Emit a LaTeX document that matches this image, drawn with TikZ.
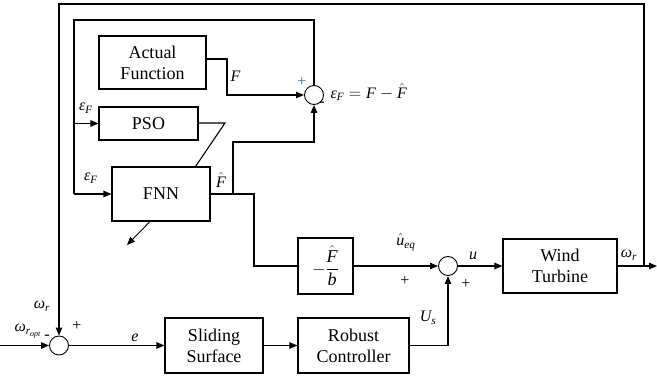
\documentclass[tikz,border=0pt]{standalone}
\usepackage{amsmath}
\usepackage{fontspec}
\setmainfont{Liberation Serif}
\newfontfamily\blkfont{Liberation Serif}
\usetikzlibrary{arrows.meta,calc}
\newcommand{\mi}[1]{\textit{#1}}
\definecolor{plusblue}{RGB}{60,110,150}
\begin{document}
\begin{tikzpicture}[x=1pt,y=-1pt,
  line width=1.1pt,
  blk/.style={draw,rectangle,inner sep=0pt,align=center,font=\blkfont\fontsize{18}{21}\selectfont},
  sumc/.style={draw,circle,minimum size=19pt,inner sep=0pt,line width=0.9pt},
  arr/.style={-{Triangle[length=8pt,width=6.5pt]}},
  lab/.style={inner sep=0pt,font=\fontsize{16}{18}\selectfont},
  sgn/.style={inner sep=0pt,font=\fontsize{16}{18}\selectfont}]
\useasboundingbox (0,0) rectangle (657,377);
% blocks
\node[blk,minimum width=107pt,minimum height=53pt] (act) at (152.5,62.5) {Actual\\Function};
\node[blk,minimum width=99pt,minimum height=33pt] (pso) at (148.5,123.5) {PSO};
\node[blk,minimum width=98pt,minimum height=54pt] (fnn) at (161,194) {FNN};
\node[blk,minimum width=55pt,minimum height=56pt] (fb) at (325.5,266) {$-\dfrac{\hat{\mi{F}}}{\mi{b}}$};
\node[blk,minimum width=114pt,minimum height=54pt] (wt) at (560,266) {Wind\\Turbine};
\node[blk,minimum width=111pt,minimum height=55pt] (rc) at (353.5,345.5) {Robust\\Controller};
\node[blk,minimum width=98pt,minimum height=55pt] (ss) at (214,345.5) {Sliding\\Surface};
\node[sumc] (s1) at (314,95) {};
\node[sumc] (s2) at (448,266) {};
\node[sumc] (s3) at (59,345.5) {};
% coordinates
\coordinate (out) at (657,266);
\coordinate (br) at (644,266);
\coordinate (inp) at (0,345.5);
\coordinate (fbr) at (233,194);
\coordinate (fturn) at (254,194);
\coordinate (pturn) at (225,123);
\coordinate (dend) at (127,245);
\coordinate (lx) at (74,20);
% outer loop
\draw[arr] (wt.east) -- (out);
\draw[arr] (br) |- (58,4) -| (s3.north);
% inner loop
\draw (s1.north) |- (lx) -- (74,194);
\draw[arr] (74,194) -- (fnn.west);
\draw[arr] (74,123.5) -- (pso.west);
\draw[arr] ([yshift=3.5pt]act.east) -| (227,95) -- (s1.west);
\draw ([yshift=0.5pt]pso.east) -- (pturn) -- ([xshift=-15pt]fnn.north east);
\draw[arr,line width=0.9pt] ([xshift=-11pt]fnn.south) -- (dend);
\draw (fnn.east) -- (fturn) |- (fb.west);
\draw[arr] (fbr) |- (314,142) -- (s1.south);
\draw[arr] (fb.east) -- (s2.west);
\draw[arr] (s2.east) -- (wt.west);
\draw[arr] (rc.east) -| (s2.south);
\draw[arr] (ss.east) -- (rc.west);
\draw[arr] (s3.east) -- (ss.west);
\draw[arr] (inp) -- (s3.west);
% labels
\node[lab,anchor=west] at (230,76) {\mi{F}};
\node[sgn,text=plusblue] at (302,82) {+};
\node[sgn] at (322,104) {-};
\node[lab,anchor=west] at (330,92) {$\mi{ε}_{\mi{F}} = \mi{F} - \hat{\mi{F}}$};
\node[lab] at (86,108) {$\mi{ε}_{\mi{F}}$};
\node[lab] at (91,178) {$\mi{ε}_{\mi{F}}$};
\node[lab] at (221,180) {$\hat{\mi{F}}$};
\node[lab] at (406,242) {$\hat{\mi{u}}_{\mi{eq}}$};
\node[sgn] at (405,281) {+};
\node[sgn] at (466,284) {+};
\node[lab] at (473,256) {\mi{u}};
\node[lab] at (428,318) {$\mi{U}_{\mi{s}}$};
\node[lab] at (629,255) {$\mi{ω}_{\mi{r}}$};
\node[lab] at (42,306) {$\mi{ω}_{\mi{r}}$};
\node[lab] at (28,331) {$\mi{ω}_{\mi{r}_{\mi{opt}}}$};
\node[sgn] at (47,337) {-};
\node[sgn] at (77,326) {+};
\node[lab] at (135,338) {\mi{e}};
\end{tikzpicture}
\end{document}
